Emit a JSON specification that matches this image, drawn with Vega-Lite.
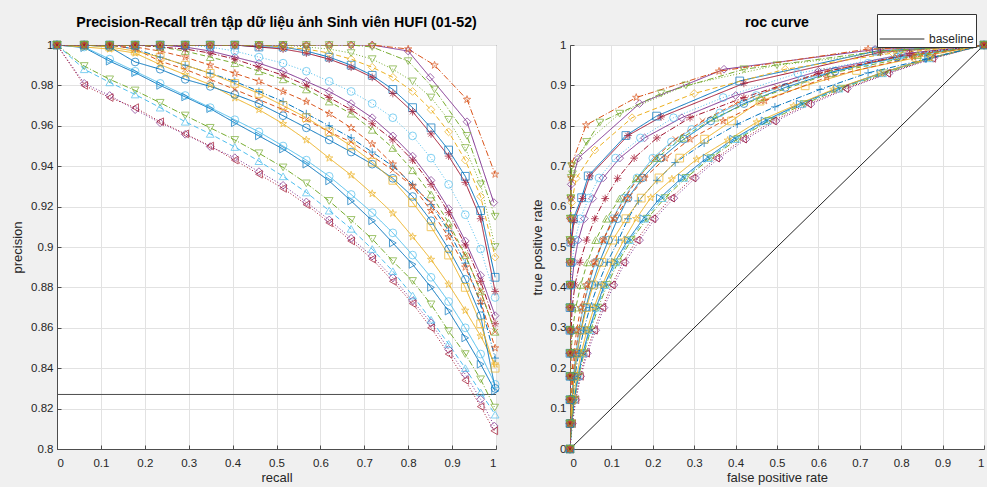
{
"$schema":"https://vega.github.io/schema/vega-lite/v6.json",
"background":"#f0f0f0",
"padding":{"left":11,"top":13,"right":2,"bottom":2},
"spacing":28,
"config":{
 "view":{"fill":"white","stroke":"#4d4d4d","strokeWidth":1},
 "axis":{"labelFont":"Liberation Sans","labelFontSize":11.5,"labelColor":"#262626","titleFont":"Liberation Sans","titleFontSize":13,"titleFontWeight":"normal","titleColor":"#262626","gridColor":"#e2e2e2","gridOpacity":1,"domainColor":"#4d4d4d","tickColor":"#4d4d4d","tickSize":-4,"format":"~g"},
 "title":{"font":"Liberation Sans","fontSize":14.2,"fontWeight":"bold","color":"#000000","offset":9},
 "legend":{"orient":"none"}
},
"datasets":{
"prbase":[{"y":0.827}],
"rocbase":[{"name":"baseline","x":0,"y":0},{"name":"baseline","x":1,"y":1}],
"pr":[
{"s":"c01","x":0,"y":1},{"s":"c01","x":0.062,"y":0.981},{"s":"c01","x":0.12,"y":0.975},{"s":"c01","x":0.178,"y":0.968},{"s":"c01","x":0.235,"y":0.9615},{"s":"c01","x":0.292,"y":0.9558},{"s":"c01","x":0.349,"y":0.9497},{"s":"c01","x":0.405,"y":0.9442},{"s":"c01","x":0.46,"y":0.9373},{"s":"c01","x":0.515,"y":0.9305},{"s":"c01","x":0.568,"y":0.9223},{"s":"c01","x":0.62,"y":0.9134},{"s":"c01","x":0.67,"y":0.9043},{"s":"c01","x":0.718,"y":0.8955},{"s":"c01","x":0.765,"y":0.8848},{"s":"c01","x":0.81,"y":0.8733},{"s":"c01","x":0.852,"y":0.8625},{"s":"c01","x":0.892,"y":0.8493},{"s":"c01","x":0.93,"y":0.837},{"s":"c01","x":0.965,"y":0.8246},{"s":"c01","x":0.996,"y":0.8114},
{"s":"c02","x":0,"y":1},{"s":"c02","x":0.062,"y":0.98},{"s":"c02","x":0.12,"y":0.974},{"s":"c02","x":0.178,"y":0.969},{"s":"c02","x":0.235,"y":0.962},{"s":"c02","x":0.292,"y":0.956},{"s":"c02","x":0.349,"y":0.95},{"s":"c02","x":0.405,"y":0.943},{"s":"c02","x":0.46,"y":0.936},{"s":"c02","x":0.515,"y":0.929},{"s":"c02","x":0.568,"y":0.921},{"s":"c02","x":0.62,"y":0.912},{"s":"c02","x":0.67,"y":0.903},{"s":"c02","x":0.718,"y":0.894},{"s":"c02","x":0.765,"y":0.883},{"s":"c02","x":0.81,"y":0.872},{"s":"c02","x":0.852,"y":0.86},{"s":"c02","x":0.892,"y":0.847},{"s":"c02","x":0.93,"y":0.834},{"s":"c02","x":0.965,"y":0.821},{"s":"c02","x":0.996,"y":0.809},
{"s":"c03","x":0,"y":1},{"s":"c03","x":0.062,"y":0.9896},{"s":"c03","x":0.12,"y":0.983},{"s":"c03","x":0.178,"y":0.9775},{"s":"c03","x":0.235,"y":0.9714},{"s":"c03","x":0.292,"y":0.9651},{"s":"c03","x":0.349,"y":0.959},{"s":"c03","x":0.405,"y":0.953},{"s":"c03","x":0.46,"y":0.9464},{"s":"c03","x":0.515,"y":0.9394},{"s":"c03","x":0.568,"y":0.9315},{"s":"c03","x":0.62,"y":0.9228},{"s":"c03","x":0.67,"y":0.9134},{"s":"c03","x":0.718,"y":0.904},{"s":"c03","x":0.765,"y":0.893},{"s":"c03","x":0.81,"y":0.8832},{"s":"c03","x":0.852,"y":0.8716},{"s":"c03","x":0.892,"y":0.8584},{"s":"c03","x":0.93,"y":0.847},{"s":"c03","x":0.965,"y":0.8345},{"s":"c03","x":0.997,"y":0.8205},
{"s":"c04","x":0,"y":1},{"s":"c04","x":0.062,"y":0.988},{"s":"c04","x":0.12,"y":0.9815},{"s":"c04","x":0.178,"y":0.9755},{"s":"c04","x":0.235,"y":0.969},{"s":"c04","x":0.292,"y":0.962},{"s":"c04","x":0.349,"y":0.956},{"s":"c04","x":0.405,"y":0.9495},{"s":"c04","x":0.46,"y":0.9425},{"s":"c04","x":0.515,"y":0.935},{"s":"c04","x":0.568,"y":0.927},{"s":"c04","x":0.62,"y":0.918},{"s":"c04","x":0.67,"y":0.909},{"s":"c04","x":0.718,"y":0.899},{"s":"c04","x":0.765,"y":0.888},{"s":"c04","x":0.81,"y":0.876},{"s":"c04","x":0.852,"y":0.864},{"s":"c04","x":0.892,"y":0.852},{"s":"c04","x":0.93,"y":0.84},{"s":"c04","x":0.965,"y":0.828},{"s":"c04","x":0.998,"y":0.817},
{"s":"c05","x":0,"y":1},{"s":"c05","x":0.062,"y":0.9987},{"s":"c05","x":0.12,"y":0.992},{"s":"c05","x":0.178,"y":0.9863},{"s":"c05","x":0.235,"y":0.98},{"s":"c05","x":0.292,"y":0.9743},{"s":"c05","x":0.349,"y":0.9685},{"s":"c05","x":0.405,"y":0.9615},{"s":"c05","x":0.46,"y":0.955},{"s":"c05","x":0.515,"y":0.9485},{"s":"c05","x":0.568,"y":0.941},{"s":"c05","x":0.62,"y":0.9327},{"s":"c05","x":0.67,"y":0.9228},{"s":"c05","x":0.718,"y":0.913},{"s":"c05","x":0.765,"y":0.902},{"s":"c05","x":0.81,"y":0.8914},{"s":"c05","x":0.852,"y":0.88},{"s":"c05","x":0.892,"y":0.8683},{"s":"c05","x":0.93,"y":0.855},{"s":"c05","x":0.965,"y":0.842},{"s":"c05","x":0.998,"y":0.8287},
{"s":"c06","x":0,"y":1},{"s":"c06","x":0.062,"y":0.999},{"s":"c06","x":0.12,"y":0.993},{"s":"c06","x":0.178,"y":0.987},{"s":"c06","x":0.235,"y":0.981},{"s":"c06","x":0.292,"y":0.975},{"s":"c06","x":0.349,"y":0.969},{"s":"c06","x":0.405,"y":0.963},{"s":"c06","x":0.46,"y":0.957},{"s":"c06","x":0.515,"y":0.95},{"s":"c06","x":0.568,"y":0.943},{"s":"c06","x":0.62,"y":0.935},{"s":"c06","x":0.67,"y":0.926},{"s":"c06","x":0.718,"y":0.917},{"s":"c06","x":0.765,"y":0.907},{"s":"c06","x":0.81,"y":0.896},{"s":"c06","x":0.852,"y":0.885},{"s":"c06","x":0.892,"y":0.873},{"s":"c06","x":0.93,"y":0.86},{"s":"c06","x":0.965,"y":0.847},{"s":"c06","x":0.998,"y":0.832},
{"s":"c07","x":0,"y":1},{"s":"c07","x":0.062,"y":0.999},{"s":"c07","x":0.12,"y":0.998},{"s":"c07","x":0.178,"y":0.996},{"s":"c07","x":0.235,"y":0.9903},{"s":"c07","x":0.292,"y":0.9853},{"s":"c07","x":0.349,"y":0.9804},{"s":"c07","x":0.405,"y":0.9738},{"s":"c07","x":0.46,"y":0.968},{"s":"c07","x":0.515,"y":0.961},{"s":"c07","x":0.568,"y":0.953},{"s":"c07","x":0.62,"y":0.944},{"s":"c07","x":0.67,"y":0.9356},{"s":"c07","x":0.718,"y":0.9264},{"s":"c07","x":0.765,"y":0.9167},{"s":"c07","x":0.81,"y":0.9051},{"s":"c07","x":0.852,"y":0.8938},{"s":"c07","x":0.892,"y":0.8815},{"s":"c07","x":0.93,"y":0.8686},{"s":"c07","x":0.965,"y":0.8559},{"s":"c07","x":0.998,"y":0.842},
{"s":"c08","x":0,"y":1},{"s":"c08","x":0.062,"y":1},{"s":"c08","x":0.12,"y":0.999},{"s":"c08","x":0.178,"y":0.9916},{"s":"c08","x":0.235,"y":0.988},{"s":"c08","x":0.292,"y":0.983},{"s":"c08","x":0.349,"y":0.9795},{"s":"c08","x":0.405,"y":0.9755},{"s":"c08","x":0.46,"y":0.971},{"s":"c08","x":0.515,"y":0.965},{"s":"c08","x":0.568,"y":0.959},{"s":"c08","x":0.62,"y":0.953},{"s":"c08","x":0.67,"y":0.947},{"s":"c08","x":0.718,"y":0.941},{"s":"c08","x":0.765,"y":0.934},{"s":"c08","x":0.81,"y":0.925},{"s":"c08","x":0.852,"y":0.913},{"s":"c08","x":0.892,"y":0.899},{"s":"c08","x":0.93,"y":0.884},{"s":"c08","x":0.965,"y":0.866},{"s":"c08","x":0.998,"y":0.83},
{"s":"c09","x":0,"y":1},{"s":"c09","x":0.062,"y":1},{"s":"c09","x":0.12,"y":1},{"s":"c09","x":0.178,"y":0.998},{"s":"c09","x":0.235,"y":0.994},{"s":"c09","x":0.292,"y":0.99},{"s":"c09","x":0.349,"y":0.986},{"s":"c09","x":0.405,"y":0.982},{"s":"c09","x":0.46,"y":0.977},{"s":"c09","x":0.515,"y":0.972},{"s":"c09","x":0.568,"y":0.966},{"s":"c09","x":0.62,"y":0.96},{"s":"c09","x":0.67,"y":0.954},{"s":"c09","x":0.718,"y":0.947},{"s":"c09","x":0.765,"y":0.94},{"s":"c09","x":0.81,"y":0.931},{"s":"c09","x":0.852,"y":0.921},{"s":"c09","x":0.892,"y":0.908},{"s":"c09","x":0.93,"y":0.892},{"s":"c09","x":0.965,"y":0.872},{"s":"c09","x":0.998,"y":0.845},
{"s":"c10","x":0,"y":1},{"s":"c10","x":0.062,"y":1},{"s":"c10","x":0.12,"y":1},{"s":"c10","x":0.178,"y":0.998},{"s":"c10","x":0.235,"y":0.992},{"s":"c10","x":0.292,"y":0.988},{"s":"c10","x":0.349,"y":0.983},{"s":"c10","x":0.405,"y":0.978},{"s":"c10","x":0.46,"y":0.973},{"s":"c10","x":0.515,"y":0.968},{"s":"c10","x":0.568,"y":0.963},{"s":"c10","x":0.62,"y":0.957},{"s":"c10","x":0.67,"y":0.952},{"s":"c10","x":0.718,"y":0.945},{"s":"c10","x":0.765,"y":0.938},{"s":"c10","x":0.81,"y":0.93},{"s":"c10","x":0.852,"y":0.922},{"s":"c10","x":0.892,"y":0.91},{"s":"c10","x":0.93,"y":0.896},{"s":"c10","x":0.965,"y":0.878},{"s":"c10","x":0.998,"y":0.858},
{"s":"c11","x":0,"y":1},{"s":"c11","x":0.062,"y":1},{"s":"c11","x":0.12,"y":0.999},{"s":"c11","x":0.178,"y":0.997},{"s":"c11","x":0.235,"y":0.994},{"s":"c11","x":0.292,"y":0.99},{"s":"c11","x":0.349,"y":0.986},{"s":"c11","x":0.405,"y":0.981},{"s":"c11","x":0.46,"y":0.976},{"s":"c11","x":0.515,"y":0.97},{"s":"c11","x":0.568,"y":0.964},{"s":"c11","x":0.62,"y":0.957},{"s":"c11","x":0.67,"y":0.95},{"s":"c11","x":0.718,"y":0.942},{"s":"c11","x":0.765,"y":0.933},{"s":"c11","x":0.81,"y":0.922},{"s":"c11","x":0.852,"y":0.91},{"s":"c11","x":0.892,"y":0.896},{"s":"c11","x":0.93,"y":0.88},{"s":"c11","x":0.965,"y":0.862},{"s":"c11","x":0.998,"y":0.84},
{"s":"c12","x":0,"y":1},{"s":"c12","x":0.062,"y":1},{"s":"c12","x":0.12,"y":1},{"s":"c12","x":0.178,"y":0.999},{"s":"c12","x":0.235,"y":0.997},{"s":"c12","x":0.292,"y":0.994},{"s":"c12","x":0.349,"y":0.99},{"s":"c12","x":0.405,"y":0.986},{"s":"c12","x":0.46,"y":0.982},{"s":"c12","x":0.515,"y":0.977},{"s":"c12","x":0.568,"y":0.972},{"s":"c12","x":0.62,"y":0.966},{"s":"c12","x":0.67,"y":0.959},{"s":"c12","x":0.718,"y":0.951},{"s":"c12","x":0.765,"y":0.941},{"s":"c12","x":0.81,"y":0.93},{"s":"c12","x":0.852,"y":0.918},{"s":"c12","x":0.892,"y":0.905},{"s":"c12","x":0.93,"y":0.89},{"s":"c12","x":0.965,"y":0.873},{"s":"c12","x":0.998,"y":0.85},
{"s":"c13","x":0,"y":1},{"s":"c13","x":0.062,"y":1},{"s":"c13","x":0.12,"y":1},{"s":"c13","x":0.178,"y":1},{"s":"c13","x":0.235,"y":0.999},{"s":"c13","x":0.292,"y":0.997},{"s":"c13","x":0.349,"y":0.994},{"s":"c13","x":0.405,"y":0.991},{"s":"c13","x":0.46,"y":0.987},{"s":"c13","x":0.515,"y":0.983},{"s":"c13","x":0.568,"y":0.978},{"s":"c13","x":0.62,"y":0.972},{"s":"c13","x":0.67,"y":0.966},{"s":"c13","x":0.718,"y":0.958},{"s":"c13","x":0.765,"y":0.949},{"s":"c13","x":0.81,"y":0.938},{"s":"c13","x":0.852,"y":0.926},{"s":"c13","x":0.892,"y":0.912},{"s":"c13","x":0.93,"y":0.896},{"s":"c13","x":0.965,"y":0.878},{"s":"c13","x":0.998,"y":0.858},
{"s":"c14","x":0,"y":1},{"s":"c14","x":0.062,"y":1},{"s":"c14","x":0.12,"y":1},{"s":"c14","x":0.178,"y":1},{"s":"c14","x":0.235,"y":1},{"s":"c14","x":0.292,"y":0.999},{"s":"c14","x":0.349,"y":0.997},{"s":"c14","x":0.405,"y":0.994},{"s":"c14","x":0.46,"y":0.991},{"s":"c14","x":0.515,"y":0.987},{"s":"c14","x":0.568,"y":0.982},{"s":"c14","x":0.62,"y":0.977},{"s":"c14","x":0.67,"y":0.971},{"s":"c14","x":0.718,"y":0.964},{"s":"c14","x":0.765,"y":0.955},{"s":"c14","x":0.81,"y":0.945},{"s":"c14","x":0.852,"y":0.933},{"s":"c14","x":0.892,"y":0.919},{"s":"c14","x":0.93,"y":0.903},{"s":"c14","x":0.965,"y":0.886},{"s":"c14","x":0.998,"y":0.866},
{"s":"c15","x":0,"y":1},{"s":"c15","x":0.062,"y":1},{"s":"c15","x":0.12,"y":1},{"s":"c15","x":0.178,"y":1},{"s":"c15","x":0.235,"y":0.999},{"s":"c15","x":0.292,"y":0.998},{"s":"c15","x":0.349,"y":0.996},{"s":"c15","x":0.405,"y":0.993},{"s":"c15","x":0.46,"y":0.989},{"s":"c15","x":0.515,"y":0.985},{"s":"c15","x":0.568,"y":0.98},{"s":"c15","x":0.62,"y":0.974},{"s":"c15","x":0.67,"y":0.968},{"s":"c15","x":0.718,"y":0.961},{"s":"c15","x":0.765,"y":0.953},{"s":"c15","x":0.81,"y":0.943},{"s":"c15","x":0.852,"y":0.931},{"s":"c15","x":0.892,"y":0.917},{"s":"c15","x":0.93,"y":0.901},{"s":"c15","x":0.965,"y":0.883},{"s":"c15","x":0.998,"y":0.862},
{"s":"c16","x":0,"y":1},{"s":"c16","x":0.062,"y":1},{"s":"c16","x":0.12,"y":1},{"s":"c16","x":0.178,"y":1},{"s":"c16","x":0.235,"y":1},{"s":"c16","x":0.292,"y":1},{"s":"c16","x":0.349,"y":0.999},{"s":"c16","x":0.405,"y":0.997},{"s":"c16","x":0.46,"y":0.994},{"s":"c16","x":0.515,"y":0.991},{"s":"c16","x":0.568,"y":0.987},{"s":"c16","x":0.62,"y":0.982},{"s":"c16","x":0.67,"y":0.977},{"s":"c16","x":0.718,"y":0.971},{"s":"c16","x":0.765,"y":0.964},{"s":"c16","x":0.81,"y":0.955},{"s":"c16","x":0.852,"y":0.944},{"s":"c16","x":0.892,"y":0.931},{"s":"c16","x":0.93,"y":0.916},{"s":"c16","x":0.965,"y":0.899},{"s":"c16","x":0.998,"y":0.875},
{"s":"c17","x":0,"y":1},{"s":"c17","x":0.062,"y":1},{"s":"c17","x":0.12,"y":1},{"s":"c17","x":0.178,"y":1},{"s":"c17","x":0.235,"y":1},{"s":"c17","x":0.292,"y":1},{"s":"c17","x":0.349,"y":1},{"s":"c17","x":0.405,"y":1},{"s":"c17","x":0.46,"y":0.999},{"s":"c17","x":0.515,"y":0.999},{"s":"c17","x":0.568,"y":0.997},{"s":"c17","x":0.62,"y":0.994},{"s":"c17","x":0.67,"y":0.99},{"s":"c17","x":0.718,"y":0.985},{"s":"c17","x":0.765,"y":0.978},{"s":"c17","x":0.81,"y":0.969},{"s":"c17","x":0.852,"y":0.959},{"s":"c17","x":0.892,"y":0.948},{"s":"c17","x":0.93,"y":0.935},{"s":"c17","x":0.965,"y":0.918},{"s":"c17","x":0.998,"y":0.885},
{"s":"c18","x":0,"y":1},{"s":"c18","x":0.062,"y":1},{"s":"c18","x":0.12,"y":1},{"s":"c18","x":0.178,"y":1},{"s":"c18","x":0.235,"y":1},{"s":"c18","x":0.292,"y":1},{"s":"c18","x":0.349,"y":1},{"s":"c18","x":0.405,"y":1},{"s":"c18","x":0.46,"y":0.999},{"s":"c18","x":0.515,"y":0.998},{"s":"c18","x":0.568,"y":0.996},{"s":"c18","x":0.62,"y":0.993},{"s":"c18","x":0.67,"y":0.989},{"s":"c18","x":0.718,"y":0.984},{"s":"c18","x":0.765,"y":0.976},{"s":"c18","x":0.81,"y":0.967},{"s":"c18","x":0.852,"y":0.956},{"s":"c18","x":0.892,"y":0.945},{"s":"c18","x":0.93,"y":0.932},{"s":"c18","x":0.965,"y":0.914},{"s":"c18","x":0.998,"y":0.878},
{"s":"c19","x":0,"y":1},{"s":"c19","x":0.062,"y":1},{"s":"c19","x":0.12,"y":1},{"s":"c19","x":0.178,"y":1},{"s":"c19","x":0.235,"y":1},{"s":"c19","x":0.292,"y":1},{"s":"c19","x":0.349,"y":1},{"s":"c19","x":0.405,"y":1},{"s":"c19","x":0.46,"y":1},{"s":"c19","x":0.515,"y":0.999},{"s":"c19","x":0.568,"y":0.998},{"s":"c19","x":0.62,"y":0.996},{"s":"c19","x":0.67,"y":0.993},{"s":"c19","x":0.718,"y":0.989},{"s":"c19","x":0.765,"y":0.984},{"s":"c19","x":0.81,"y":0.977},{"s":"c19","x":0.852,"y":0.968},{"s":"c19","x":0.892,"y":0.957},{"s":"c19","x":0.93,"y":0.943},{"s":"c19","x":0.965,"y":0.925},{"s":"c19","x":0.998,"y":0.895},
{"s":"c20","x":0,"y":1},{"s":"c20","x":0.062,"y":1},{"s":"c20","x":0.12,"y":1},{"s":"c20","x":0.178,"y":1},{"s":"c20","x":0.235,"y":1},{"s":"c20","x":0.292,"y":1},{"s":"c20","x":0.349,"y":1},{"s":"c20","x":0.405,"y":1},{"s":"c20","x":0.46,"y":1},{"s":"c20","x":0.515,"y":1},{"s":"c20","x":0.568,"y":0.999},{"s":"c20","x":0.62,"y":0.998},{"s":"c20","x":0.67,"y":0.996},{"s":"c20","x":0.718,"y":0.993},{"s":"c20","x":0.765,"y":0.988},{"s":"c20","x":0.81,"y":0.982},{"s":"c20","x":0.852,"y":0.974},{"s":"c20","x":0.892,"y":0.963},{"s":"c20","x":0.93,"y":0.949},{"s":"c20","x":0.965,"y":0.931},{"s":"c20","x":0.998,"y":0.9},
{"s":"c21","x":0,"y":1},{"s":"c21","x":0.062,"y":1},{"s":"c21","x":0.12,"y":1},{"s":"c21","x":0.178,"y":1},{"s":"c21","x":0.235,"y":1},{"s":"c21","x":0.292,"y":1},{"s":"c21","x":0.349,"y":1},{"s":"c21","x":0.405,"y":1},{"s":"c21","x":0.46,"y":1},{"s":"c21","x":0.515,"y":1},{"s":"c21","x":0.568,"y":1},{"s":"c21","x":0.62,"y":1},{"s":"c21","x":0.67,"y":1},{"s":"c21","x":0.718,"y":1},{"s":"c21","x":0.8,"y":0.997},{"s":"c21","x":0.85,"y":0.984},{"s":"c21","x":0.934,"y":0.962},{"s":"c21","x":0.995,"y":0.922},
{"s":"c22","x":0,"y":1},{"s":"c22","x":0.062,"y":1},{"s":"c22","x":0.12,"y":1},{"s":"c22","x":0.178,"y":1},{"s":"c22","x":0.235,"y":1},{"s":"c22","x":0.292,"y":1},{"s":"c22","x":0.349,"y":1},{"s":"c22","x":0.405,"y":1},{"s":"c22","x":0.46,"y":1},{"s":"c22","x":0.515,"y":1},{"s":"c22","x":0.568,"y":1},{"s":"c22","x":0.62,"y":1},{"s":"c22","x":0.67,"y":1},{"s":"c22","x":0.718,"y":1},{"s":"c22","x":0.8,"y":0.998},{"s":"c22","x":0.86,"y":0.99},{"s":"c22","x":0.934,"y":0.973},{"s":"c22","x":0.998,"y":0.936},
{"s":"c23","x":0,"y":1},{"s":"c23","x":0.062,"y":1},{"s":"c23","x":0.12,"y":1},{"s":"c23","x":0.178,"y":1},{"s":"c23","x":0.235,"y":1},{"s":"c23","x":0.292,"y":1},{"s":"c23","x":0.349,"y":1},{"s":"c23","x":0.405,"y":1},{"s":"c23","x":0.46,"y":1},{"s":"c23","x":0.515,"y":1},{"s":"c23","x":0.568,"y":1},{"s":"c23","x":0.62,"y":1},{"s":"c23","x":0.67,"y":1},{"s":"c23","x":0.718,"y":0.999},{"s":"c23","x":0.8,"y":0.992},{"s":"c23","x":0.86,"y":0.978},{"s":"c23","x":0.934,"y":0.955},{"s":"c23","x":0.998,"y":0.915}
],
"roc":[
{"s":"c01","x":0,"y":0},{"s":"c01","x":0.006,"y":0.063},{"s":"c01","x":0.0145,"y":0.122},{"s":"c01","x":0.026,"y":0.18},{"s":"c01","x":0.042,"y":0.237},{"s":"c01","x":0.062,"y":0.294},{"s":"c01","x":0.082,"y":0.35},{"s":"c01","x":0.106,"y":0.406},{"s":"c01","x":0.133,"y":0.462},{"s":"c01","x":0.168,"y":0.517},{"s":"c01","x":0.205,"y":0.57},{"s":"c01","x":0.251,"y":0.621},{"s":"c01","x":0.303,"y":0.671},{"s":"c01","x":0.36,"y":0.72},{"s":"c01","x":0.425,"y":0.767},{"s":"c01","x":0.498,"y":0.812},{"s":"c01","x":0.582,"y":0.854},{"s":"c01","x":0.67,"y":0.892},{"s":"c01","x":0.771,"y":0.93},{"s":"c01","x":0.878,"y":0.967},{"s":"c01","x":1,"y":1},
{"s":"c02","x":0,"y":0},{"s":"c02","x":0.005,"y":0.063},{"s":"c02","x":0.013,"y":0.122},{"s":"c02","x":0.024,"y":0.18},{"s":"c02","x":0.039,"y":0.237},{"s":"c02","x":0.058,"y":0.294},{"s":"c02","x":0.078,"y":0.35},{"s":"c02","x":0.101,"y":0.406},{"s":"c02","x":0.128,"y":0.462},{"s":"c02","x":0.161,"y":0.517},{"s":"c02","x":0.199,"y":0.57},{"s":"c02","x":0.244,"y":0.621},{"s":"c02","x":0.296,"y":0.671},{"s":"c02","x":0.353,"y":0.72},{"s":"c02","x":0.418,"y":0.767},{"s":"c02","x":0.49,"y":0.812},{"s":"c02","x":0.575,"y":0.854},{"s":"c02","x":0.665,"y":0.892},{"s":"c02","x":0.766,"y":0.93},{"s":"c02","x":0.875,"y":0.967},{"s":"c02","x":1,"y":1},
{"s":"c03","x":0,"y":0},{"s":"c03","x":0.004,"y":0.063},{"s":"c03","x":0.011,"y":0.122},{"s":"c03","x":0.021,"y":0.18},{"s":"c03","x":0.034,"y":0.237},{"s":"c03","x":0.05,"y":0.294},{"s":"c03","x":0.068,"y":0.35},{"s":"c03","x":0.09,"y":0.406},{"s":"c03","x":0.116,"y":0.462},{"s":"c03","x":0.148,"y":0.517},{"s":"c03","x":0.186,"y":0.57},{"s":"c03","x":0.229,"y":0.621},{"s":"c03","x":0.28,"y":0.671},{"s":"c03","x":0.34,"y":0.72},{"s":"c03","x":0.405,"y":0.767},{"s":"c03","x":0.48,"y":0.812},{"s":"c03","x":0.565,"y":0.854},{"s":"c03","x":0.655,"y":0.892},{"s":"c03","x":0.76,"y":0.93},{"s":"c03","x":0.87,"y":0.967},{"s":"c03","x":1,"y":1},
{"s":"c04","x":0,"y":0},{"s":"c04","x":0.004,"y":0.063},{"s":"c04","x":0.01,"y":0.122},{"s":"c04","x":0.02,"y":0.18},{"s":"c04","x":0.032,"y":0.237},{"s":"c04","x":0.048,"y":0.294},{"s":"c04","x":0.065,"y":0.35},{"s":"c04","x":0.086,"y":0.406},{"s":"c04","x":0.112,"y":0.462},{"s":"c04","x":0.144,"y":0.517},{"s":"c04","x":0.181,"y":0.57},{"s":"c04","x":0.223,"y":0.621},{"s":"c04","x":0.275,"y":0.671},{"s":"c04","x":0.335,"y":0.72},{"s":"c04","x":0.4,"y":0.767},{"s":"c04","x":0.475,"y":0.812},{"s":"c04","x":0.56,"y":0.854},{"s":"c04","x":0.65,"y":0.892},{"s":"c04","x":0.755,"y":0.93},{"s":"c04","x":0.868,"y":0.967},{"s":"c04","x":1,"y":1},
{"s":"c05","x":0,"y":0},{"s":"c05","x":0.004,"y":0.063},{"s":"c05","x":0.01,"y":0.122},{"s":"c05","x":0.019,"y":0.18},{"s":"c05","x":0.031,"y":0.237},{"s":"c05","x":0.046,"y":0.294},{"s":"c05","x":0.063,"y":0.35},{"s":"c05","x":0.083,"y":0.406},{"s":"c05","x":0.108,"y":0.462},{"s":"c05","x":0.14,"y":0.517},{"s":"c05","x":0.177,"y":0.57},{"s":"c05","x":0.217,"y":0.621},{"s":"c05","x":0.27,"y":0.671},{"s":"c05","x":0.33,"y":0.72},{"s":"c05","x":0.394,"y":0.767},{"s":"c05","x":0.47,"y":0.812},{"s":"c05","x":0.555,"y":0.854},{"s":"c05","x":0.645,"y":0.892},{"s":"c05","x":0.75,"y":0.93},{"s":"c05","x":0.865,"y":0.967},{"s":"c05","x":1,"y":1},
{"s":"c06","x":0,"y":0},{"s":"c06","x":0.001,"y":0.063},{"s":"c06","x":0.004,"y":0.122},{"s":"c06","x":0.008,"y":0.18},{"s":"c06","x":0.014,"y":0.237},{"s":"c06","x":0.022,"y":0.294},{"s":"c06","x":0.032,"y":0.35},{"s":"c06","x":0.045,"y":0.406},{"s":"c06","x":0.061,"y":0.462},{"s":"c06","x":0.08,"y":0.517},{"s":"c06","x":0.103,"y":0.57},{"s":"c06","x":0.13,"y":0.621},{"s":"c06","x":0.162,"y":0.671},{"s":"c06","x":0.2,"y":0.72},{"s":"c06","x":0.245,"y":0.76},{"s":"c06","x":0.294,"y":0.791},{"s":"c06","x":0.362,"y":0.832},{"s":"c06","x":0.45,"y":0.875},{"s":"c06","x":0.56,"y":0.915},{"s":"c06","x":0.72,"y":0.955},{"s":"c06","x":1,"y":1},
{"s":"c07","x":0,"y":0},{"s":"c07","x":0.003,"y":0.063},{"s":"c07","x":0.008,"y":0.122},{"s":"c07","x":0.016,"y":0.18},{"s":"c07","x":0.027,"y":0.237},{"s":"c07","x":0.041,"y":0.294},{"s":"c07","x":0.058,"y":0.35},{"s":"c07","x":0.078,"y":0.406},{"s":"c07","x":0.102,"y":0.462},{"s":"c07","x":0.13,"y":0.517},{"s":"c07","x":0.16,"y":0.57},{"s":"c07","x":0.195,"y":0.622},{"s":"c07","x":0.246,"y":0.668},{"s":"c07","x":0.306,"y":0.717},{"s":"c07","x":0.381,"y":0.764},{"s":"c07","x":0.451,"y":0.809},{"s":"c07","x":0.54,"y":0.849},{"s":"c07","x":0.636,"y":0.89},{"s":"c07","x":0.75,"y":0.93},{"s":"c07","x":0.87,"y":0.968},{"s":"c07","x":1,"y":1},
{"s":"c08","x":0,"y":0},{"s":"c08","x":0.002,"y":0.063},{"s":"c08","x":0.005,"y":0.122},{"s":"c08","x":0.01,"y":0.18},{"s":"c08","x":0.017,"y":0.237},{"s":"c08","x":0.026,"y":0.294},{"s":"c08","x":0.038,"y":0.35},{"s":"c08","x":0.053,"y":0.406},{"s":"c08","x":0.071,"y":0.462},{"s":"c08","x":0.093,"y":0.517},{"s":"c08","x":0.115,"y":0.57},{"s":"c08","x":0.14,"y":0.621},{"s":"c08","x":0.175,"y":0.671},{"s":"c08","x":0.22,"y":0.72},{"s":"c08","x":0.275,"y":0.767},{"s":"c08","x":0.34,"y":0.812},{"s":"c08","x":0.42,"y":0.855},{"s":"c08","x":0.52,"y":0.895},{"s":"c08","x":0.64,"y":0.935},{"s":"c08","x":0.79,"y":0.97},{"s":"c08","x":1,"y":1},
{"s":"c09","x":0,"y":0},{"s":"c09","x":0.002,"y":0.063},{"s":"c09","x":0.006,"y":0.122},{"s":"c09","x":0.012,"y":0.18},{"s":"c09","x":0.021,"y":0.237},{"s":"c09","x":0.033,"y":0.294},{"s":"c09","x":0.048,"y":0.35},{"s":"c09","x":0.067,"y":0.406},{"s":"c09","x":0.09,"y":0.462},{"s":"c09","x":0.117,"y":0.517},{"s":"c09","x":0.14,"y":0.57},{"s":"c09","x":0.165,"y":0.614},{"s":"c09","x":0.21,"y":0.665},{"s":"c09","x":0.254,"y":0.709},{"s":"c09","x":0.324,"y":0.757},{"s":"c09","x":0.404,"y":0.804},{"s":"c09","x":0.495,"y":0.847},{"s":"c09","x":0.604,"y":0.89},{"s":"c09","x":0.72,"y":0.931},{"s":"c09","x":0.86,"y":0.965},{"s":"c09","x":1,"y":1},
{"s":"c10","x":0,"y":0},{"s":"c10","x":0.001,"y":0.063},{"s":"c10","x":0.003,"y":0.122},{"s":"c10","x":0.007,"y":0.18},{"s":"c10","x":0.013,"y":0.237},{"s":"c10","x":0.021,"y":0.294},{"s":"c10","x":0.031,"y":0.35},{"s":"c10","x":0.044,"y":0.406},{"s":"c10","x":0.06,"y":0.462},{"s":"c10","x":0.08,"y":0.517},{"s":"c10","x":0.104,"y":0.57},{"s":"c10","x":0.132,"y":0.621},{"s":"c10","x":0.165,"y":0.671},{"s":"c10","x":0.205,"y":0.72},{"s":"c10","x":0.255,"y":0.767},{"s":"c10","x":0.32,"y":0.812},{"s":"c10","x":0.4,"y":0.855},{"s":"c10","x":0.5,"y":0.895},{"s":"c10","x":0.62,"y":0.935},{"s":"c10","x":0.79,"y":0.97},{"s":"c10","x":1,"y":1},
{"s":"c11","x":0,"y":0},{"s":"c11","x":0.002,"y":0.063},{"s":"c11","x":0.005,"y":0.122},{"s":"c11","x":0.01,"y":0.18},{"s":"c11","x":0.017,"y":0.237},{"s":"c11","x":0.027,"y":0.294},{"s":"c11","x":0.04,"y":0.35},{"s":"c11","x":0.056,"y":0.406},{"s":"c11","x":0.077,"y":0.462},{"s":"c11","x":0.103,"y":0.517},{"s":"c11","x":0.135,"y":0.57},{"s":"c11","x":0.172,"y":0.621},{"s":"c11","x":0.215,"y":0.671},{"s":"c11","x":0.265,"y":0.72},{"s":"c11","x":0.325,"y":0.767},{"s":"c11","x":0.39,"y":0.812},{"s":"c11","x":0.459,"y":0.861},{"s":"c11","x":0.568,"y":0.899},{"s":"c11","x":0.692,"y":0.937},{"s":"c11","x":0.837,"y":0.969},{"s":"c11","x":1,"y":1},
{"s":"c12","x":0,"y":0},{"s":"c12","x":0,"y":0.063},{"s":"c12","x":0.001,"y":0.122},{"s":"c12","x":0.004,"y":0.18},{"s":"c12","x":0.009,"y":0.237},{"s":"c12","x":0.016,"y":0.294},{"s":"c12","x":0.026,"y":0.35},{"s":"c12","x":0.04,"y":0.406},{"s":"c12","x":0.058,"y":0.462},{"s":"c12","x":0.08,"y":0.517},{"s":"c12","x":0.107,"y":0.57},{"s":"c12","x":0.14,"y":0.62},{"s":"c12","x":0.18,"y":0.671},{"s":"c12","x":0.23,"y":0.72},{"s":"c12","x":0.29,"y":0.767},{"s":"c12","x":0.37,"y":0.812},{"s":"c12","x":0.47,"y":0.862},{"s":"c12","x":0.62,"y":0.92},{"s":"c12","x":0.83,"y":0.97},{"s":"c12","x":1,"y":1},
{"s":"c13","x":0,"y":0},{"s":"c13","x":0,"y":0.063},{"s":"c13","x":0,"y":0.122},{"s":"c13","x":0.001,"y":0.18},{"s":"c13","x":0.003,"y":0.237},{"s":"c13","x":0.006,"y":0.294},{"s":"c13","x":0.014,"y":0.35},{"s":"c13","x":0.026,"y":0.406},{"s":"c13","x":0.042,"y":0.462},{"s":"c13","x":0.062,"y":0.517},{"s":"c13","x":0.088,"y":0.57},{"s":"c13","x":0.12,"y":0.62},{"s":"c13","x":0.16,"y":0.67},{"s":"c13","x":0.21,"y":0.72},{"s":"c13","x":0.27,"y":0.77},{"s":"c13","x":0.35,"y":0.82},{"s":"c13","x":0.46,"y":0.87},{"s":"c13","x":0.63,"y":0.93},{"s":"c13","x":0.84,"y":0.975},{"s":"c13","x":1,"y":1},
{"s":"c14","x":0,"y":0},{"s":"c14","x":0,"y":0.063},{"s":"c14","x":0,"y":0.122},{"s":"c14","x":0,"y":0.18},{"s":"c14","x":0,"y":0.237},{"s":"c14","x":0.001,"y":0.294},{"s":"c14","x":0.002,"y":0.35},{"s":"c14","x":0.004,"y":0.406},{"s":"c14","x":0.01,"y":0.462},{"s":"c14","x":0.02,"y":0.517},{"s":"c14","x":0.035,"y":0.57},{"s":"c14","x":0.055,"y":0.62},{"s":"c14","x":0.08,"y":0.671},{"s":"c14","x":0.12,"y":0.72},{"s":"c14","x":0.18,"y":0.77},{"s":"c14","x":0.27,"y":0.82},{"s":"c14","x":0.4,"y":0.875},{"s":"c14","x":0.6,"y":0.935},{"s":"c14","x":0.82,"y":0.98},{"s":"c14","x":1,"y":1},
{"s":"c15","x":0,"y":0},{"s":"c15","x":0,"y":0.063},{"s":"c15","x":0,"y":0.122},{"s":"c15","x":0.001,"y":0.18},{"s":"c15","x":0.002,"y":0.237},{"s":"c15","x":0.003,"y":0.294},{"s":"c15","x":0.005,"y":0.35},{"s":"c15","x":0.012,"y":0.406},{"s":"c15","x":0.024,"y":0.462},{"s":"c15","x":0.04,"y":0.517},{"s":"c15","x":0.06,"y":0.57},{"s":"c15","x":0.085,"y":0.62},{"s":"c15","x":0.115,"y":0.67},{"s":"c15","x":0.155,"y":0.72},{"s":"c15","x":0.21,"y":0.77},{"s":"c15","x":0.29,"y":0.82},{"s":"c15","x":0.42,"y":0.87},{"s":"c15","x":0.6,"y":0.93},{"s":"c15","x":0.82,"y":0.978},{"s":"c15","x":1,"y":1},
{"s":"c16","x":0,"y":0},{"s":"c16","x":0,"y":0.063},{"s":"c16","x":0,"y":0.122},{"s":"c16","x":0,"y":0.18},{"s":"c16","x":0,"y":0.237},{"s":"c16","x":0,"y":0.294},{"s":"c16","x":0.001,"y":0.35},{"s":"c16","x":0.002,"y":0.406},{"s":"c16","x":0.005,"y":0.462},{"s":"c16","x":0.012,"y":0.517},{"s":"c16","x":0.025,"y":0.57},{"s":"c16","x":0.045,"y":0.621},{"s":"c16","x":0.07,"y":0.671},{"s":"c16","x":0.11,"y":0.72},{"s":"c16","x":0.17,"y":0.77},{"s":"c16","x":0.25,"y":0.82},{"s":"c16","x":0.37,"y":0.87},{"s":"c16","x":0.55,"y":0.93},{"s":"c16","x":0.8,"y":0.975},{"s":"c16","x":1,"y":1},
{"s":"c17","x":0,"y":0},{"s":"c17","x":0,"y":0.063},{"s":"c17","x":0,"y":0.122},{"s":"c17","x":0,"y":0.18},{"s":"c17","x":0,"y":0.237},{"s":"c17","x":0,"y":0.294},{"s":"c17","x":0,"y":0.35},{"s":"c17","x":0.001,"y":0.406},{"s":"c17","x":0.001,"y":0.462},{"s":"c17","x":0.002,"y":0.512},{"s":"c17","x":0.008,"y":0.57},{"s":"c17","x":0.028,"y":0.622},{"s":"c17","x":0.044,"y":0.676},{"s":"c17","x":0.135,"y":0.776},{"s":"c17","x":0.209,"y":0.824},{"s":"c17","x":0.41,"y":0.911},{"s":"c17","x":0.74,"y":0.985},{"s":"c17","x":1,"y":1},
{"s":"c18","x":0,"y":0},{"s":"c18","x":0,"y":0.063},{"s":"c18","x":0,"y":0.122},{"s":"c18","x":0,"y":0.18},{"s":"c18","x":0,"y":0.237},{"s":"c18","x":0,"y":0.294},{"s":"c18","x":0,"y":0.35},{"s":"c18","x":0.001,"y":0.406},{"s":"c18","x":0.002,"y":0.462},{"s":"c18","x":0.003,"y":0.51},{"s":"c18","x":0.01,"y":0.565},{"s":"c18","x":0.03,"y":0.62},{"s":"c18","x":0.048,"y":0.676},{"s":"c18","x":0.14,"y":0.776},{"s":"c18","x":0.22,"y":0.822},{"s":"c18","x":0.42,"y":0.905},{"s":"c18","x":0.75,"y":0.982},{"s":"c18","x":1,"y":1},
{"s":"c19","x":0,"y":0},{"s":"c19","x":0,"y":0.063},{"s":"c19","x":0,"y":0.122},{"s":"c19","x":0,"y":0.18},{"s":"c19","x":0,"y":0.237},{"s":"c19","x":0,"y":0.294},{"s":"c19","x":0,"y":0.35},{"s":"c19","x":0,"y":0.406},{"s":"c19","x":0,"y":0.462},{"s":"c19","x":0.001,"y":0.517},{"s":"c19","x":0.002,"y":0.57},{"s":"c19","x":0.004,"y":0.61},{"s":"c19","x":0.015,"y":0.67},{"s":"c19","x":0.06,"y":0.74},{"s":"c19","x":0.15,"y":0.82},{"s":"c19","x":0.3,"y":0.88},{"s":"c19","x":0.52,"y":0.94},{"s":"c19","x":0.78,"y":0.98},{"s":"c19","x":1,"y":1},
{"s":"c20","x":0,"y":0},{"s":"c20","x":0,"y":0.063},{"s":"c20","x":0,"y":0.122},{"s":"c20","x":0,"y":0.18},{"s":"c20","x":0,"y":0.237},{"s":"c20","x":0,"y":0.294},{"s":"c20","x":0,"y":0.35},{"s":"c20","x":0,"y":0.406},{"s":"c20","x":0,"y":0.462},{"s":"c20","x":0,"y":0.517},{"s":"c20","x":0.001,"y":0.57},{"s":"c20","x":0.002,"y":0.62},{"s":"c20","x":0.006,"y":0.68},{"s":"c20","x":0.04,"y":0.76},{"s":"c20","x":0.12,"y":0.83},{"s":"c20","x":0.28,"y":0.9},{"s":"c20","x":0.5,"y":0.95},{"s":"c20","x":0.8,"y":0.985},{"s":"c20","x":1,"y":1},
{"s":"c21","x":0,"y":0},{"s":"c21","x":0,"y":0.063},{"s":"c21","x":0,"y":0.122},{"s":"c21","x":0,"y":0.18},{"s":"c21","x":0,"y":0.237},{"s":"c21","x":0,"y":0.294},{"s":"c21","x":0,"y":0.35},{"s":"c21","x":0,"y":0.406},{"s":"c21","x":0,"y":0.462},{"s":"c21","x":0.001,"y":0.517},{"s":"c21","x":0.001,"y":0.57},{"s":"c21","x":0.002,"y":0.621},{"s":"c21","x":0.003,"y":0.655},{"s":"c21","x":0.02,"y":0.72},{"s":"c21","x":0.168,"y":0.855},{"s":"c21","x":0.372,"y":0.94},{"s":"c21","x":0.737,"y":0.989},{"s":"c21","x":1,"y":1},
{"s":"c22","x":0,"y":0},{"s":"c22","x":0,"y":0.063},{"s":"c22","x":0,"y":0.122},{"s":"c22","x":0,"y":0.18},{"s":"c22","x":0,"y":0.237},{"s":"c22","x":0,"y":0.294},{"s":"c22","x":0,"y":0.35},{"s":"c22","x":0,"y":0.406},{"s":"c22","x":0,"y":0.462},{"s":"c22","x":0.001,"y":0.517},{"s":"c22","x":0.001,"y":0.57},{"s":"c22","x":0.002,"y":0.621},{"s":"c22","x":0.003,"y":0.671},{"s":"c22","x":0.004,"y":0.705},{"s":"c22","x":0.039,"y":0.802},{"s":"c22","x":0.16,"y":0.87},{"s":"c22","x":0.36,"y":0.935},{"s":"c22","x":0.72,"y":0.99},{"s":"c22","x":1,"y":1},
{"s":"c23","x":0,"y":0},{"s":"c23","x":0,"y":0.063},{"s":"c23","x":0,"y":0.122},{"s":"c23","x":0,"y":0.18},{"s":"c23","x":0,"y":0.237},{"s":"c23","x":0,"y":0.294},{"s":"c23","x":0,"y":0.35},{"s":"c23","x":0,"y":0.406},{"s":"c23","x":0,"y":0.462},{"s":"c23","x":0,"y":0.517},{"s":"c23","x":0.001,"y":0.57},{"s":"c23","x":0.002,"y":0.621},{"s":"c23","x":0.003,"y":0.671},{"s":"c23","x":0.004,"y":0.7},{"s":"c23","x":0.072,"y":0.808},{"s":"c23","x":0.22,"y":0.88},{"s":"c23","x":0.42,"y":0.94},{"s":"c23","x":0.75,"y":0.985},{"s":"c23","x":1,"y":1}
]
},
"hconcat":[
{
 "width":439,"height":404,
 "title":{"text":"Precision-Recall trên tập dữ liệu ảnh Sinh viên HUFI (01-52)"},
 "layer":[
  {"data":{"name":"prbase"},"mark":{"type":"rule","color":"#4d4d4d","strokeWidth":1},
   "encoding":{"y":{"field":"y","type":"quantitative","scale":{"domain":[0.8,1]}}}},
  {"data":{"name":"pr"},"mark":{"type":"line","strokeWidth":1,"clip":true},
   "encoding":{
    "x":{"field":"x","type":"quantitative","scale":{"domain":[0,1]},"axis":{"title":"recall","values":[0,0.1,0.2,0.3,0.4,0.5,0.6,0.7,0.8,0.9,1],"labelPadding":12,"titlePadding":3}},
    "y":{"field":"y","type":"quantitative","scale":{"domain":[0.8,1]},"axis":{"title":"precision","values":[0.8,0.82,0.84,0.86,0.88,0.9,0.92,0.94,0.96,0.98,1],"labelPadding":8,"titlePadding":6}},
    "color":{"field":"s","type":"nominal","legend":null,"scale":{"domain":["c01","c02","c03","c04","c05","c06","c07","c08","c09","c10","c11","c12","c13","c14","c15","c16","c17","c18","c19","c20","c21","c22","c23"],"range":["#7E2F8E","#A2142F","#77AC30","#4DBEEE","#0072BD","#4DBEEE","#EDB120","#0072BD","#0072BD","#D95319","#EDB120","#D95319","#77AC30","#7E2F8E","#A2142F","#4DBEEE","#0072BD","#A2142F","#EDB120","#77AC30","#7E2F8E","#D95319","#77AC30"]}},
    "strokeDash":{"field":"s","type":"nominal","legend":null,"scale":{"domain":["c01","c02","c03","c04","c05","c06","c07","c08","c09","c10","c11","c12","c13","c14","c15","c16","c17","c18","c19","c20","c21","c22","c23"],"range":[[1,2],[1,2],[6,2,1,2],[5,3],[1,0],[1,0],[1,0],[1,0],[6,2,1,2],[5,3],[1,0],[5,3],[5,3],[1,0],[6,2,1,2],[1,2],[1,0],[1,0],[5,3],[1,2],[1,0],[6,2,1,2],[6,2,1,2]]}}
   }},
  {"data":{"name":"pr"},"mark":{"type":"point","filled":false,"size":60,"strokeWidth":1},
   "encoding":{
    "x":{"field":"x","type":"quantitative"},
    "y":{"field":"y","type":"quantitative"},
    "color":{"field":"s","type":"nominal","legend":null},
    "shape":{"field":"s","type":"nominal","legend":null,"scale":{"domain":["c01","c02","c03","c04","c05","c06","c07","c08","c09","c10","c11","c12","c13","c14","c15","c16","c17","c18","c19","c20","c21","c22","c23"],"range":["diamond","triangle-left","triangle-down","triangle-up","triangle-right","circle","M0,-1L0.2245,-0.309L0.951,-0.309L0.363,0.118L0.588,0.809L0,0.382L-0.588,0.809L-0.363,0.118L-0.951,-0.309L-0.2245,-0.309Z","circle","M-1,0L1,0M0,-1L0,1","M-0.75,-0.75L0.75,0.75M-0.75,0.75L0.75,-0.75","square","M0,-1L0.2245,-0.309L0.951,-0.309L0.363,0.118L0.588,0.809L0,0.382L-0.588,0.809L-0.363,0.118L-0.951,-0.309L-0.2245,-0.309Z","triangle-up","diamond","M-1,0L1,0M0,-1L0,1M-0.7,-0.7L0.7,0.7M-0.7,0.7L0.7,-0.7","circle","square","M-1,0L1,0M0,-1L0,1M-0.7,-0.7L0.7,0.7M-0.7,0.7L0.7,-0.7","diamond","triangle-down","diamond","M0,-1L0.2245,-0.309L0.951,-0.309L0.363,0.118L0.588,0.809L0,0.382L-0.588,0.809L-0.363,0.118L-0.951,-0.309L-0.2245,-0.309Z","triangle-down"]}}
   }}
 ]
},
{
 "width":414,"height":404,
 "title":{"text":"roc curve","dy":26},
 "resolve":{"scale":{"color":"independent"}},
 "layer":[
  {"data":{"name":"rocbase"},"mark":{"type":"line","strokeWidth":1},
   "encoding":{
    "x":{"field":"x","type":"quantitative","scale":{"domain":[0,1]},"axis":{"title":"false positive rate","values":[0,0.1,0.2,0.3,0.4,0.5,0.6,0.7,0.8,0.9,1],"labelPadding":12,"titlePadding":3}},
    "y":{"field":"y","type":"quantitative","scale":{"domain":[0,1]},"axis":{"title":"true positive rate","values":[0,0.1,0.2,0.3,0.4,0.5,0.6,0.7,0.8,0.9,1],"labelPadding":8,"titlePadding":6}},
    "color":{"field":"name","type":"nominal","scale":{"domain":["baseline"],"range":["#262626"]},"legend":{"title":null,"orient":"none","legendX":307,"legendY":-31,"symbolType":"stroke","symbolSize":2000,"symbolStrokeWidth":1,"labelFont":"Liberation Sans","labelFontSize":12,"labelColor":"#262626","fillColor":"white","strokeColor":"#333333","padding":2}}
   }},
  {"data":{"name":"roc"},"mark":{"type":"line","strokeWidth":1,"clip":true},
   "encoding":{
    "x":{"field":"x","type":"quantitative"},
    "y":{"field":"y","type":"quantitative"},
    "order":{"field":"y","type":"quantitative"},
    "color":{"field":"s","type":"nominal","legend":null,"scale":{"domain":["c01","c02","c03","c04","c05","c06","c07","c08","c09","c10","c11","c12","c13","c14","c15","c16","c17","c18","c19","c20","c21","c22","c23"],"range":["#7E2F8E","#A2142F","#77AC30","#4DBEEE","#0072BD","#4DBEEE","#EDB120","#0072BD","#0072BD","#D95319","#EDB120","#D95319","#77AC30","#7E2F8E","#A2142F","#4DBEEE","#0072BD","#A2142F","#EDB120","#77AC30","#7E2F8E","#D95319","#77AC30"]}},
    "strokeDash":{"field":"s","type":"nominal","legend":null,"scale":{"domain":["c01","c02","c03","c04","c05","c06","c07","c08","c09","c10","c11","c12","c13","c14","c15","c16","c17","c18","c19","c20","c21","c22","c23"],"range":[[1,2],[1,2],[6,2,1,2],[5,3],[1,0],[1,0],[1,0],[1,0],[6,2,1,2],[5,3],[1,0],[5,3],[5,3],[1,0],[6,2,1,2],[1,2],[1,0],[1,0],[5,3],[1,2],[1,0],[6,2,1,2],[6,2,1,2]]}}
   }},
  {"data":{"name":"roc"},"mark":{"type":"point","filled":false,"size":60,"strokeWidth":1},
   "encoding":{
    "x":{"field":"x","type":"quantitative"},
    "y":{"field":"y","type":"quantitative"},
    "color":{"field":"s","type":"nominal","legend":null,"scale":{"domain":["c01","c02","c03","c04","c05","c06","c07","c08","c09","c10","c11","c12","c13","c14","c15","c16","c17","c18","c19","c20","c21","c22","c23"],"range":["#7E2F8E","#A2142F","#77AC30","#4DBEEE","#0072BD","#4DBEEE","#EDB120","#0072BD","#0072BD","#D95319","#EDB120","#D95319","#77AC30","#7E2F8E","#A2142F","#4DBEEE","#0072BD","#A2142F","#EDB120","#77AC30","#7E2F8E","#D95319","#77AC30"]}},
    "shape":{"field":"s","type":"nominal","legend":null,"scale":{"domain":["c01","c02","c03","c04","c05","c06","c07","c08","c09","c10","c11","c12","c13","c14","c15","c16","c17","c18","c19","c20","c21","c22","c23"],"range":["diamond","triangle-left","triangle-down","triangle-up","triangle-right","circle","M0,-1L0.2245,-0.309L0.951,-0.309L0.363,0.118L0.588,0.809L0,0.382L-0.588,0.809L-0.363,0.118L-0.951,-0.309L-0.2245,-0.309Z","circle","M-1,0L1,0M0,-1L0,1","M-0.75,-0.75L0.75,0.75M-0.75,0.75L0.75,-0.75","square","M0,-1L0.2245,-0.309L0.951,-0.309L0.363,0.118L0.588,0.809L0,0.382L-0.588,0.809L-0.363,0.118L-0.951,-0.309L-0.2245,-0.309Z","triangle-up","diamond","M-1,0L1,0M0,-1L0,1M-0.7,-0.7L0.7,0.7M-0.7,0.7L0.7,-0.7","circle","square","M-1,0L1,0M0,-1L0,1M-0.7,-0.7L0.7,0.7M-0.7,0.7L0.7,-0.7","diamond","triangle-down","diamond","M0,-1L0.2245,-0.309L0.951,-0.309L0.363,0.118L0.588,0.809L0,0.382L-0.588,0.809L-0.363,0.118L-0.951,-0.309L-0.2245,-0.309Z","triangle-down"]}}
   }}
 ]
}
]
}
